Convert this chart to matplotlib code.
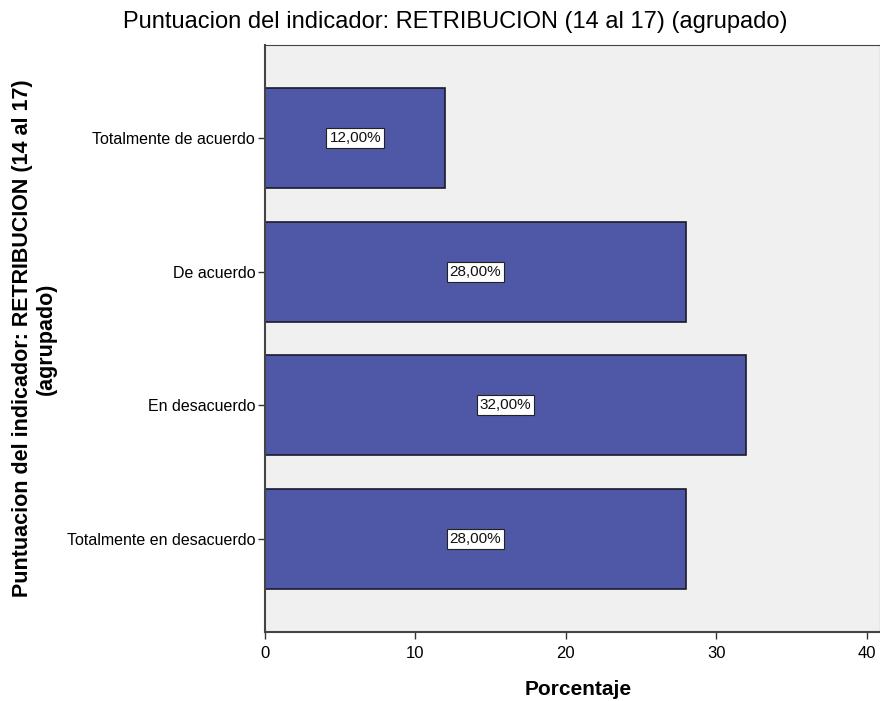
import matplotlib
matplotlib.use("Agg")
from matplotlib import pyplot as plt

# data
categories = ["Totalmente de acuerdo", "De acuerdo", "En desacuerdo", "Totalmente en desacuerdo"]
percentages = [12.0, 28.0, 32.0, 28.0]
x_ticks = [0, 10, 20, 30, 40]

plt.rcParams['font.family'] = ['Liberation Sans', 'DejaVu Sans']

fig = plt.figure(figsize=(8.8, 7.01), dpi=100)
ax = fig.add_axes([0.3011, 0.0984, 0.699, 0.8374])
ax.set_facecolor('#f0f0f0')

y_pos = list(range(len(categories)))
ax.barh(y_pos, percentages, height=0.75, color='#4e58a6', edgecolor='#1a1a2e', linewidth=1.2)

for y, v in zip(y_pos, percentages):
    label = ("%.2f%%" % v).replace('.', ',')
    ax.text(v / 2, y, label, ha='center', va='center', fontsize=11, color='#111111',
            bbox=dict(boxstyle='square,pad=0.2', facecolor='white', edgecolor='#222222', linewidth=0.8))

ax.set_xlim(0, 40.9)
ax.set_ylim(3.7, -0.7)
ax.set_yticks(y_pos)
ax.set_yticklabels(categories, fontsize=11.5)
ax.set_xticks(x_ticks)
ax.set_xticklabels([str(t) for t in x_ticks], fontsize=12)
ax.tick_params(axis='both', direction='out', length=5, width=1, color='#333333', pad=2)
ax.tick_params(axis='x', pad=5)

for side in ['left', 'bottom', 'top', 'right']:
    ax.spines[side].set_color('#444444')
ax.spines['left'].set_linewidth(1.5)
ax.spines['bottom'].set_linewidth(1.5)

ax.set_xlabel('Porcentaje', fontsize=15, fontweight='bold')
ax.xaxis.set_label_coords(0.51, -0.082)
ax.set_ylabel('Puntuacion del indicador: RETRIBUCION (14 al 17)\n(agrupado)',
              fontsize=15.5, fontweight='bold')
ax.yaxis.set_label_coords(-0.338, 0.5)
fig.text(0.517, 0.968, 'Puntuacion del indicador: RETRIBUCION (14 al 17) (agrupado)',
         ha='center', va='center', fontsize=17)

fig.savefig('out.png', dpi=100)
